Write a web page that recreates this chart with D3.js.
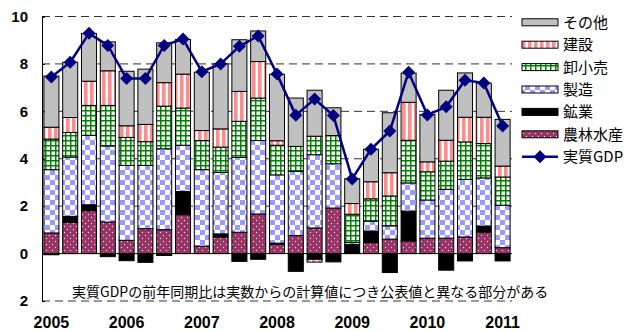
<!DOCTYPE html>
<html>
<head>
<meta charset="utf-8">
<script src="https://cdn.jsdelivr.net/npm/d3@7"></script>
<style>
  html, body { margin: 0; padding: 0; background: #fff; }
  svg { display: block; }
</style>
</head>
<body>
<svg id="chart" width="629" height="331"></svg>
<script>
// Quarterly contributions to real GDP growth (year-on-year, %), 2005Q1 - 2011Q1
const quarters = [
  "2005Q1","2005Q2","2005Q3","2005Q4",
  "2006Q1","2006Q2","2006Q3","2006Q4",
  "2007Q1","2007Q2","2007Q3","2007Q4",
  "2008Q1","2008Q2","2008Q3","2008Q4",
  "2009Q1","2009Q2","2009Q3","2009Q4",
  "2010Q1","2010Q2","2010Q3","2010Q4",
  "2011Q1"
];
const yearLabels = ["2005","2006","2007","2008","2009","2010","2011"];

const agriculture   = [0.87,1.32,1.81,1.33, 0.56,1.05,1.01,1.64, 0.31,0.70,0.90,1.67, 0.39,0.76,1.08,1.92, 0.02,0.46,0.61,0.53, 0.65,0.65,0.70,0.91, 0.25];
const mining        = [-0.05,0.25,0.25,-0.13, -0.30,-0.37,-0.08,0.98, 0.00,0.13,-0.33,-0.24, 0.05,-0.75,-0.24,-0.35, 0.37,0.49,-0.80,1.26, 0.00,-0.70,-0.31,0.25, -0.31];
const manufacturing = [2.67,2.50,2.93,3.21, 3.16,2.67,3.41,1.95, 3.23,2.59,3.16,3.10, 2.88,2.71,3.09,1.87, 0.08,0.42,0.56,1.19, 1.61,2.06,2.43,2.03, 1.79];
const trade         = [1.29,1.04,1.26,1.71, 1.18,1.00,1.80,1.57, 1.23,1.07,1.52,1.79, 1.25,1.05,0.78,1.19, 1.19,0.94,1.26,1.80, 1.19,1.19,1.58,1.45, 1.19];
const construction  = [0.50,0.63,1.02,1.46, 0.49,0.73,0.99,1.43, 0.42,0.77,1.26,1.54, 0.19,0.00,-0.12,0.00, 0.45,0.72,0.98,1.60, 0.42,0.88,1.04,1.11, 0.46];
const other         = [2.16,2.33,2.01,1.22, 2.30,2.33,1.68,1.46, 2.46,2.74,2.18,1.29, 2.80,2.04,1.94,1.17, 1.05,1.37,2.53,1.23, 2.00,2.11,1.87,1.44, 1.97];
const realGDP       = [7.45,8.07,9.29,8.78, 7.38,7.39,8.78,9.05, 7.67,8.00,8.74,9.18, 7.57,5.83,6.52,5.82, 3.15,4.40,5.17,7.65, 5.85,6.19,7.31,7.20, 5.38];

const seriesKeys = ["農林水産","鉱業","製造","卸小売","建設","その他"];
const seriesValues = [agriculture, mining, manufacturing, trade, construction, other];
const legendOrder = ["その他","建設","卸小売","製造","鉱業","農林水産"];
const lineName = "実質GDP";

const yTickValues = [10, 8, 6, 4, 2, 0, -2];
const yTickLabels = ["10", "8", "6", "4", "2", "0", "2"];
const note = "実質GDPの前年同期比は実数からの計算値につき公表値と異なる部分がある";

// ---- layout ----
const svg = d3.select("#chart");
const plot = { left: 42, right: 512, top: 16.5, bottom: 301 };
const jpFont = "'Noto Sans CJK JP', 'Noto Sans', sans-serif";
const numFont = "'Liberation Sans', Arial, sans-serif";

const x = d3.scaleBand()
  .domain(quarters)
  .range([plot.left, plot.right])
  .paddingInner(0.2)
  .paddingOuter(0.1);

const y = d3.scaleLinear()
  .domain([-2, 10])
  .range([plot.bottom, plot.top]);

// ---- fill patterns ----
const defs = svg.append("defs");

const pStripe = defs.append("pattern").attr("id", "pat-construction")
  .attr("patternUnits", "userSpaceOnUse").attr("width", 6).attr("height", 6);
pStripe.append("rect").attr("width", 6).attr("height", 6).attr("fill", "#ffffff");
pStripe.append("rect").attr("width", 3.6).attr("height", 6).attr("fill", "#ff8c8c");

const pGrid = defs.append("pattern").attr("id", "pat-trade")
  .attr("patternUnits", "userSpaceOnUse").attr("width", 5).attr("height", 5);
pGrid.append("rect").attr("width", 5).attr("height", 5).attr("fill", "#ffffff");
pGrid.append("rect").attr("width", 5).attr("height", 1.5).attr("fill", "#008000");
pGrid.append("rect").attr("width", 1.5).attr("height", 5).attr("fill", "#008000");

const pCheck = defs.append("pattern").attr("id", "pat-manufacturing")
  .attr("patternUnits", "userSpaceOnUse").attr("width", 10).attr("height", 10);
pCheck.append("rect").attr("width", 10).attr("height", 10).attr("fill", "#ffffff");
pCheck.append("rect").attr("width", 5).attr("height", 5).attr("fill", "#9999ff");
pCheck.append("rect").attr("x", 5).attr("y", 5).attr("width", 5).attr("height", 5).attr("fill", "#9999ff");

const pDots = defs.append("pattern").attr("id", "pat-agriculture")
  .attr("patternUnits", "userSpaceOnUse").attr("width", 6).attr("height", 6);
pDots.append("rect").attr("width", 6).attr("height", 6).attr("fill", "#993366");
pDots.append("circle").attr("cx", 1.5).attr("cy", 1.5).attr("r", 0.7).attr("fill", "#f4dce8");
pDots.append("circle").attr("cx", 4.5).attr("cy", 4.5).attr("r", 0.7).attr("fill", "#f4dce8");

const fills = {
  "農林水産": "url(#pat-agriculture)",
  "鉱業": "#000000",
  "製造": "url(#pat-manufacturing)",
  "卸小売": "url(#pat-trade)",
  "建設": "url(#pat-construction)",
  "その他": "#c0c0c0"
};

// ---- gridlines ----
svg.append("g").selectAll("line")
  .data(yTickValues.filter(v => v !== 0))
  .join("line")
  .attr("x1", plot.left).attr("x2", plot.right)
  .attr("y1", d => y(d)).attr("y2", d => y(d))
  .attr("stroke", "#333").attr("stroke-width", 1)
  .attr("stroke-dasharray", "8,5");

// ---- stacked bars ----
const rows = quarters.map((q, i) => {
  const r = { quarter: q };
  seriesKeys.forEach((k, j) => { r[k] = seriesValues[j][i]; });
  return r;
});

const stacked = d3.stack()
  .keys(seriesKeys)
  .offset(d3.stackOffsetDiverging)(rows);

svg.append("g").selectAll("g")
  .data(stacked)
  .join("g")
  .attr("fill", d => fills[d.key])
  .selectAll("rect")
  .data(d => d.filter(s => s[1] !== s[0]))
  .join("rect")
  .attr("x", d => x(d.data.quarter))
  .attr("width", x.bandwidth())
  .attr("y", d => y(Math.max(d[0], d[1])))
  .attr("height", d => Math.abs(y(d[0]) - y(d[1])))
  .attr("stroke", "#000")
  .attr("stroke-width", 1);

// ---- zero line ----
svg.append("line")
  .attr("x1", plot.left).attr("x2", plot.right)
  .attr("y1", y(0)).attr("y2", y(0))
  .attr("stroke", "#000").attr("stroke-width", 1);

// ---- y axis ----
const yAxis = d3.axisLeft(y)
  .tickValues(yTickValues)
  .tickSize(-3)
  .tickPadding(14)
  .tickFormat((d, i) => yTickLabels[i]);

const gy = svg.append("g")
  .attr("transform", `translate(${plot.left},0)`)
  .call(yAxis);
gy.select(".domain").attr("stroke", "#000").attr("stroke-width", 1);
gy.selectAll(".tick line").attr("stroke", "#000");
gy.selectAll(".tick text")
  .attr("font-family", numFont)
  .attr("font-size", 15)
  .attr("font-weight", "bold")
  .attr("fill", "#000");

// ---- year labels under the first quarter of each year ----
svg.append("g").selectAll("text")
  .data(yearLabels)
  .join("text")
  .attr("x", d => x(d + "Q1") + x.bandwidth() / 2)
  .attr("y", 328)
  .attr("text-anchor", "middle")
  .attr("font-family", numFont)
  .attr("font-size", 16)
  .attr("font-weight", "bold")
  .text(d => d);

// ---- real GDP line ----
const line = d3.line()
  .x((d, i) => x(quarters[i]) + x.bandwidth() / 2)
  .y(d => y(d));

svg.append("path")
  .datum(realGDP)
  .attr("d", line)
  .attr("fill", "none")
  .attr("stroke", "#000080")
  .attr("stroke-width", 2.5)
  .attr("stroke-linejoin", "round");

const diamond = "M0,-6.5L6.5,0L0,6.5L-6.5,0Z";
svg.append("g").selectAll("path")
  .data(realGDP)
  .join("path")
  .attr("transform", (d, i) => `translate(${x(quarters[i]) + x.bandwidth() / 2},${y(d)})`)
  .attr("d", diamond)
  .attr("fill", "#000080");

// ---- footnote ----
svg.append("text")
  .attr("x", 72).attr("y", 297)
  .attr("font-family", jpFont)
  .attr("font-size", 14)
  .attr("fill", "#000")
  .text(note);

// ---- legend ----
const legend = svg.append("g");
const legendX = 522, legendW = 36, legendTop = 22.3, legendStep = 22.4;

legendOrder.forEach((k, i) => {
  const cy = legendTop + i * legendStep;
  legend.append("rect")
    .attr("x", legendX).attr("y", cy - 3.5)
    .attr("width", legendW).attr("height", 7)
    .attr("fill", fills[k]).attr("stroke", "#000").attr("stroke-width", 1);
  legend.append("text")
    .attr("x", 563).attr("y", cy)
    .attr("dy", "0.36em")
    .attr("font-family", jpFont).attr("font-size", 15)
    .text(k);
});

{
  const cy = legendTop + legendOrder.length * legendStep;
  legend.append("line")
    .attr("x1", legendX).attr("x2", legendX + legendW)
    .attr("y1", cy).attr("y2", cy)
    .attr("stroke", "#000080").attr("stroke-width", 2.5);
  legend.append("path")
    .attr("transform", `translate(${legendX + legendW / 2},${cy})`)
    .attr("d", diamond).attr("fill", "#000080");
  legend.append("text")
    .attr("x", 563).attr("y", cy)
    .attr("dy", "0.36em")
    .attr("font-family", jpFont).attr("font-size", 15)
    .text(lineName);
}
</script>
</body>
</html>
